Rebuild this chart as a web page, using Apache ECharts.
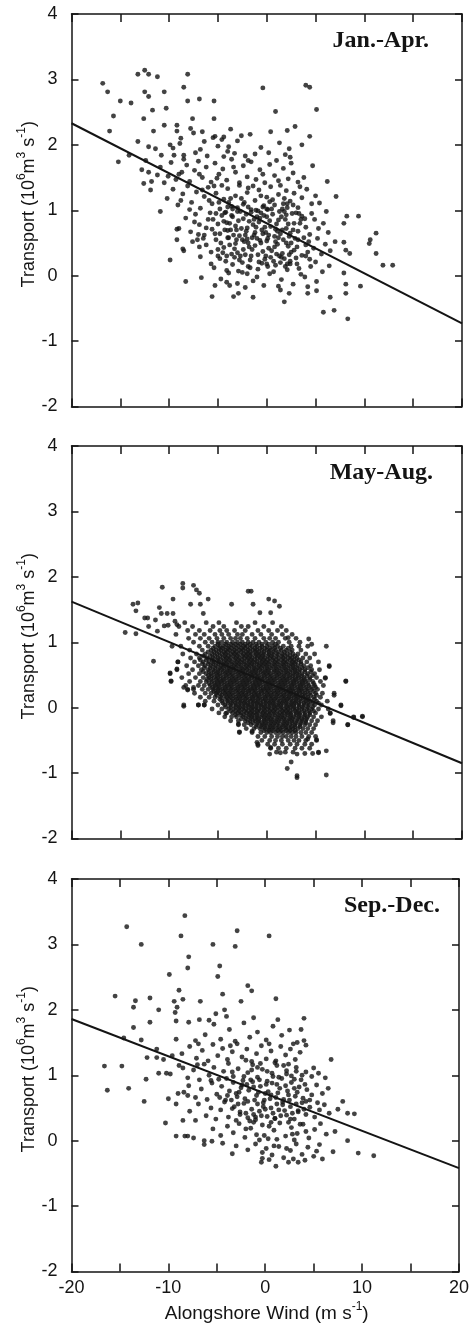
<!DOCTYPE html>
<html>
<head>
<meta charset="utf-8">
<script src="https://cdn.jsdelivr.net/npm/echarts@6/dist/echarts.min.js"></script>
<style>
html,body{margin:0;padding:0;background:#fff;}
#chart{width:472px;height:1325px;}
</style>
</head>
<body>
<div id="chart"></div>
<script>
// ---------------- DATA ----------------
const panelTitles = ['Jan.-Apr.', 'May-Aug.', 'Sep.-Dec.'];
const xTickLabels = [-20, -10, 0, 10, 20];
const yTickLabels = [-2, -1, 0, 1, 2, 3, 4];

// Regression lines (endpoints read at the frame edges)
const fitJanApr = [[-20, 2.33], [20, -0.73]];
const fitMayAug = [[-20, 1.62], [20, -0.85]];
const fitSepDec = [[-20, 1.86], [20, -0.42]];

// Jan.-Apr. scatter
const janAprOuter = [
[-16.8,2.94],[-16.3,2.81],[-15.0,2.67],[-13.9,2.64],[-15.7,2.44],[-16.1,2.21],[-15.2,1.74],[-14.1,1.84],
[-13.2,2.05],[-13.2,3.08],[-12.5,3.14],[-12.1,3.08],[-11.2,3.04],[-12.5,2.81],[-12.1,2.74],[-12.6,2.40],
[-11.7,2.53],[-11.6,2.21],[-12.1,1.97],[-11.4,1.94],[-10.5,2.81],[-10.3,2.56],[-10.5,2.30],[-10.8,1.84],
[-10.9,0.98],[-12.4,1.76],[-12.6,1.41],[-11.9,1.31],[-12.1,1.58],[-8.1,3.08],[-8.5,2.88],[-8.1,2.67],
[-6.9,2.70],[-7.6,2.40],[-9.2,2.21],[-9.2,2.30],[-8.8,2.10],[-9.9,2.00],[-9.5,1.84],[-8.5,1.84],
[-5.4,2.67],[-5.4,2.40],[-7.8,2.25],[-7.5,2.18],[-6.6,2.20],[-5.3,2.13],[-4.4,2.12],[-3.7,2.24],
[-2.6,2.14],[-1.7,2.16],[-0.4,2.87],[0.9,2.51],[0.4,2.20],[2.1,2.22],[2.9,2.28],[4.0,2.91],
[4.4,2.88],[5.1,2.54],[4.4,2.13],[3.6,2.00],[2.3,1.94],[2.4,1.81],[4.7,1.68],[6.2,1.44],
[7.1,1.21],[5.4,1.11],[6.1,0.98],[8.2,0.91],[9.4,0.91],[7.9,0.80],[11.2,0.65],[10.6,0.55],
[10.5,0.49],[11.2,0.34],[11.9,0.16],[12.9,0.16],[7.9,0.51],[8.1,0.39],[8.5,0.34],[7.9,0.04],
[9.6,-0.16],[8.1,-0.13],[8.1,-0.27],[8.3,-0.66],[6.9,-0.53],[5.8,-0.56],[6.5,-0.33],[4.2,-0.27],
[5.1,-0.23],[1.8,-0.40],[2.3,-0.27],[1.4,-0.22],[-1.4,-0.33],[-3.4,-0.32],[-2.9,-0.27],[-5.6,-0.32],
[-5.3,-0.15],[-4.1,-0.10],[-6.7,-0.03],[-8.3,-0.09],[-9.9,0.24],[-8.5,0.38],[-9.2,0.55],[-9.2,0.71],
[-7.4,0.82],[-7.1,0.55],[-6.5,0.57],[-6.9,0.44]
];
const janAprCore = [
[-9.6,1.95],[-8.9,2.02],[-7.3,1.88],[-6.4,2.05],[-6.1,1.83],[-5.0,1.98],[-4.6,2.08],[-4.0,1.90],[-3.3,1.87],[-3.0,2.06],
[-2.2,1.83],[-1.2,1.86],[-0.6,1.96],[0.2,1.88],[1.3,2.03],[1.9,1.85],[-3.9,1.97],[-4.4,1.82],[-6.8,1.93],[-5.5,2.11],
[-12.8,1.62],[-11.8,1.44],[-10.9,1.66],[-10.1,1.52],[-9.8,1.73],[-9.3,1.47],[-8.7,1.58],[-8.2,1.69],[-7.9,1.44],[-7.4,1.61],
[-7.0,1.75],[-6.6,1.50],[-6.2,1.66],[-5.7,1.43],[-5.3,1.72],[-4.9,1.55],[-4.5,1.63],[-4.1,1.46],[-3.6,1.78],[-3.2,1.58],
[-2.8,1.42],[-2.4,1.68],[-2.0,1.51],[-1.6,1.74],[-1.1,1.47],[-0.7,1.62],[-0.2,1.42],[0.3,1.70],[0.8,1.53],[1.2,1.45],
[1.7,1.64],[2.2,1.48],[2.7,1.57],[3.2,1.43],[3.8,1.50],[-8.5,1.78],[-6.9,1.55],[-5.1,1.49],[-3.4,1.66],[-1.9,1.76],
[-0.4,1.55],[1.0,1.76],[2.5,1.72],[-9.0,1.55],[-11.2,1.54],[-10.5,1.42],
[-10.2,1.18],[-9.6,1.32],[-9.1,1.08],[-8.6,1.25],[-8.1,1.37],[-7.7,1.12],[-7.2,1.28],[-6.8,1.03],[-6.4,1.21],[-6.0,1.35],
[-5.6,1.10],[-5.2,1.26],[-4.8,1.02],[-4.4,1.17],[-4.0,1.33],[-3.6,1.06],[-3.2,1.22],[-2.8,1.38],[-2.4,1.09],[-2.0,1.27],
[-1.6,1.01],[-1.2,1.15],[-0.8,1.31],[-0.4,1.05],[0.0,1.20],[0.4,1.36],[0.8,1.08],[1.2,1.24],[1.6,1.02],[2.0,1.30],
[2.4,1.14],[2.8,1.26],[3.2,1.04],[3.6,1.19],[4.1,1.32],[4.6,1.10],[5.0,1.22],[-7.9,1.01],[-5.9,1.15],[-3.9,1.12],
[-1.9,1.34],[0.1,1.01],[2.1,1.10],[-6.6,1.31],[-4.6,1.38],[-2.6,1.18],[-0.6,1.22],[1.4,1.38],[3.4,1.36],[-8.8,1.15],
[-3.0,1.04],[0.6,1.16],[1.8,1.18],[-1.4,1.37],[-5.4,1.37],
[-9.0,0.72],[-8.3,0.88],[-7.8,0.67],[-7.3,0.94],[-6.9,0.78],[-6.4,0.62],[-6.0,0.86],[-5.6,0.71],[-5.2,0.95],[-4.8,0.64],
[-4.4,0.83],[-4.0,0.69],[-3.6,0.92],[-3.2,0.76],[-2.8,0.61],[-2.4,0.87],[-2.0,0.73],[-1.6,0.97],[-1.2,0.66],[-0.8,0.82],
[-0.4,0.64],[0.0,0.90],[0.4,0.75],[0.8,0.60],[1.2,0.85],[1.6,0.70],[2.0,0.93],[2.4,0.65],[2.8,0.80],[3.2,0.68],
[3.6,0.91],[4.0,0.74],[4.4,0.63],[4.9,0.86],[5.3,0.72],[5.8,0.80],[6.3,0.66],[-5.8,0.96],[-4.2,0.97],[-3.0,0.98],
[-1.8,0.83],[-0.6,0.96],[0.6,0.94],[1.8,0.98],[3.0,0.96],[-3.8,0.80],[-2.6,0.72],[-1.4,0.78],[-0.2,0.74],[1.0,0.79],
[2.2,0.79],[3.4,0.80],[-5.0,0.79],[-6.2,0.73],[-2.2,0.62],[-1.0,0.90],[0.2,0.62],[1.4,0.64],[2.6,0.95],[-3.4,0.62],
[-4.6,0.92],[4.6,0.95],[-7.0,0.63],
[-8.6,0.41],[-7.6,0.52],[-6.8,0.29],[-6.2,0.47],[-5.7,0.36],[-5.2,0.55],[-4.8,0.26],[-4.4,0.43],[-4.0,0.58],[-3.6,0.33],
[-3.2,0.49],[-2.8,0.24],[-2.4,0.40],[-2.0,0.56],[-1.6,0.30],[-1.2,0.46],[-0.8,0.21],[-0.4,0.37],[0.0,0.53],[0.4,0.28],
[0.8,0.44],[1.2,0.58],[1.6,0.34],[2.0,0.50],[2.4,0.22],[2.8,0.39],[3.2,0.55],[3.6,0.31],[4.0,0.47],[4.4,0.25],
[4.8,0.42],[5.2,0.57],[5.6,0.33],[6.0,0.48],[6.5,0.38],[7.0,0.52],[-3.0,0.35],[-1.0,0.57],[1.0,0.33],[3.0,0.27],
[-5.0,0.40],[-2.2,0.32],[-0.2,0.25],[1.8,0.26],[3.8,0.58],[-3.8,0.47],[-1.8,0.44],[0.2,0.42],[2.2,0.45],[4.2,0.36],
[-4.2,0.22],[-0.6,0.50],[1.4,0.20],[5.0,0.21],
[-5.4,0.12],[-4.7,-0.05],[-4.1,0.08],[-3.5,0.17],[-3.0,-0.12],[-2.5,0.05],[-1.9,0.14],[-1.4,-0.08],[-0.9,0.10],[-0.3,-0.15],
[0.3,0.03],[0.9,0.16],[1.5,-0.06],[2.1,0.09],[2.7,-0.13],[3.3,0.11],[3.9,-0.02],[4.5,0.14],[5.1,-0.09],[5.7,0.06],
[6.4,0.15],[-2.2,-0.18],[0.0,0.18],[2.4,0.18],[4.2,-0.17],[-3.8,-0.15],[1.2,-0.16],[-1.0,-0.02]
];
const janAprDense = [
[-4.3,0.96],[-3.9,0.58],[-3.5,1.02],[-3.1,0.55],[-2.7,0.98],[-2.3,0.52],[-1.9,1.05],[-1.5,0.58],[-1.1,1.00],[-0.7,0.54],
[-0.3,1.07],[0.1,0.57],[0.5,1.02],[0.9,0.52],[1.3,0.98],[1.7,0.55],[2.1,1.04],[2.5,0.50],[-4.1,0.30],[-3.3,0.28],
[-2.5,0.20],[-1.7,0.24],[-0.9,0.32],[-0.1,0.30],[0.7,0.22],[1.5,0.28],[2.3,0.32],[3.1,0.18],[-3.7,0.70],[-2.9,0.84],
[-2.1,0.68],[-1.3,0.86],[-0.5,0.70],[0.3,0.84],[1.1,0.68],[1.9,0.86],[2.7,0.70],[3.5,0.86],
[-5.7,0.18],[-5.3,0.64],[-4.9,1.12],[-4.5,0.35],[-4.1,0.81],[-3.7,1.18],[-3.3,0.41],[-2.9,0.07],[-2.5,0.55],[-2.1,0.94],
[-1.7,0.12],[-1.3,0.62],[-0.9,0.99],[-0.5,0.19],[-0.1,0.66],[0.3,1.13],[0.7,0.06],[1.1,0.48],[1.5,0.90],[1.9,0.14],
[2.3,0.60],[2.7,1.08],[3.1,0.44],[3.5,0.02],[3.9,0.87],[4.3,0.52],[-5.5,0.86],[-4.7,0.50],[-3.9,0.04],[-3.1,0.70],
[-2.3,1.12],[-1.5,0.40],[-0.7,0.88],[0.1,0.14],[0.9,0.71],[1.7,1.10],[2.5,0.36],[3.3,0.95],[-4.3,0.70],[-2.7,0.30],
[-1.1,0.74],[0.5,0.38],[2.1,0.18],[-3.5,0.90],[-1.9,0.50],[-0.3,0.92],[1.3,0.30],[2.9,0.57],[-5.0,0.30],[-4.0,1.05],
[-2.0,0.03],[0.0,1.02],[2.0,0.72],[4.0,0.30]
];

// May-Aug. scatter
const mayAugOuter = [
[-14.5,1.15],[-13.4,1.13],[-13.7,1.58],[-13.2,1.60],[-13.4,1.48],[-12.5,1.37],[-12.2,1.37],[-12.1,1.24],[-11.6,0.71],
[-11.4,1.34],[-11.2,1.17],[-11.0,1.53],[-10.7,1.84],[-10.8,1.44],[-10.5,1.25],[-10.1,1.26],[-10.2,1.44],[-9.6,1.44],
[-9.6,1.66],[-9.4,1.32],[-9.2,1.27],[-9.7,0.94],[-8.6,1.90],[-8.6,1.83],[-7.5,1.87],[-7.2,1.80],[-6.9,1.75],[-6.8,1.58],
[-6.0,1.66],[-6.5,1.44],[-7.8,1.58],[-8.5,0.02],[-7.0,0.04],[-6.4,0.04],[-9.9,0.53],[-9.8,0.41],[-9.2,0.59],[-9.1,0.70],
[-8.5,0.31],[-8.1,0.27],[-7.5,0.31],[-3.6,1.58],[-1.9,1.78],[-1.6,1.78],[-1.4,1.58],[-0.7,1.45],[0.2,1.66],[0.8,1.63],
[1.3,1.55],[0.4,1.45],[2.2,1.07],[4.3,1.05],[4.6,0.97],[6.1,0.94],[6.4,0.63],[6.0,0.45],[8.1,0.41],[6.9,0.19],
[7.6,0.03],[9.8,-0.13],[8.9,-0.15],[8.3,-0.26],[6.8,-0.23],[6.5,-0.09],[6.1,-0.66],[6.1,-1.03],[3.1,-1.04],[3.1,-1.07],
[2.1,-0.93],[2.5,-0.83],[3.1,-0.71],[3.9,-0.70],[4.7,-0.70],[5.3,-0.69],[4.2,-0.48],[5.1,-0.49],[1.4,-0.69],[0.3,-0.71],
[0.4,-0.61],[-0.9,-0.58],[-1.0,-0.53],[-1.5,-0.36],[-2.8,-0.37],[-4.2,-0.09],[-2.9,-0.25]
];
const mayAugRows = [
[1.30,[-8.4,-6.2,-4.9,-3.1,-1.2,0.6]],
[1.24,[-9.0,-7.6,-5.5,-4.4,-2.6,-1.9,-0.3,1.5]],
[1.18,[-8.1,-6.9,-5.8,-4.8,-4.1,-3.3,-2.2,-0.9,0.2,1.1,2.0]],
[1.12,[-9.3,-7.3,-6.4,-5.3,-4.6,-3.9,-3.0,-2.5,-1.5,-0.6,0.5,1.6,2.6]],
[1.06,[-8.0,-6.8,-5.9,-5.1,-4.4,-3.7,-3.2,-2.7,-2.0,-1.2,-0.3,0.3,0.9,1.9,3.0]],
[1.00,[-7.5,-6.3,-5.6,-5.0,-4.6,-4.1,-3.5,-3.0,-2.5,-1.9,-1.4,-0.8,-0.1,0.6,1.2,2.3,3.4]],
[0.94,[-8.8,-6.9,-6.0,-5.3,-4.8,-4.4,-3.9,-3.4,-2.9,-2.4,-2.0,-1.5,-1.0,-0.5,0.0,0.6,1.1,1.7,2.5,3.3,4.2]],
[0.88,[-7.9,-6.6,-5.7,-5.2,-4.7,-4.2,-3.8,-3.3,-2.8,-2.4,-1.9,-1.4,-1.0,-0.5,0.0,0.4,0.9,1.5,2.0,2.6,3.5]],
[0.82,[-8.6,-7.2,-6.3,-5.6,-5.1,-4.6,-4.2,-3.7,-3.3,-2.9,-2.4,-2.0,-1.6,-1.1,-0.7,-0.3,0.2,0.6,1.1,1.6,2.1,2.7,3.2,4.0,4.9]],
[0.76,[-7.8,-6.9,-6.1,-5.5,-5.0,-4.5,-4.1,-3.7,-3.2,-2.8,-2.3,-1.9,-1.5,-1.0,-0.6,-0.2,0.3,0.7,1.2,1.7,2.2,2.6,3.1,3.7,4.4]],
[0.70,[-9.1,-7.4,-6.5,-5.9,-5.4,-4.9,-4.4,-4.0,-3.6,-3.1,-2.7,-2.3,-1.8,-1.4,-1.0,-0.5,-0.1,0.3,0.8,1.2,1.7,2.1,2.6,3.0,3.5,4.1,5.3]],
[0.64,[-8.2,-7.0,-6.3,-5.7,-5.2,-4.7,-4.3,-3.9,-3.4,-3.0,-2.6,-2.1,-1.7,-1.3,-0.8,-0.4,0.0,0.5,0.9,1.4,1.8,2.3,2.7,3.2,3.8,4.5,6.4]],
[0.58,[-9.2,-7.6,-6.7,-6.0,-5.5,-5.0,-4.6,-4.1,-3.7,-3.3,-2.8,-2.4,-2.0,-1.5,-1.1,-0.7,-0.2,0.2,0.7,1.1,1.6,2.0,2.5,2.9,3.4,3.9,4.6,5.4]],
[0.52,[-9.9,-8.0,-6.9,-6.2,-5.7,-5.2,-4.8,-4.3,-3.9,-3.5,-3.0,-2.6,-2.2,-1.7,-1.3,-0.9,-0.4,0.0,0.4,0.9,1.3,1.8,2.2,2.7,3.1,3.6,4.2,4.9]],
[0.46,[-8.7,-7.3,-6.5,-5.9,-5.4,-5.0,-4.5,-4.1,-3.6,-3.2,-2.8,-2.3,-1.9,-1.5,-1.0,-0.6,-0.2,0.3,0.7,1.1,1.6,2.0,2.4,2.9,3.3,3.8,4.4,5.1,6.0]],
[0.40,[-9.8,-7.9,-6.8,-6.2,-5.6,-5.1,-4.7,-4.3,-3.8,-3.4,-3.0,-2.5,-2.1,-1.7,-1.2,-0.8,-0.4,0.1,0.5,0.9,1.4,1.8,2.2,2.7,3.1,3.6,4.0,4.7,5.5,8.1]],
[0.34,[-8.3,-7.0,-6.4,-5.8,-5.3,-4.9,-4.4,-4.0,-3.6,-3.1,-2.7,-2.3,-1.9,-1.4,-1.0,-0.6,-0.1,0.3,0.7,1.2,1.6,2.0,2.5,2.9,3.4,3.8,4.3,4.9,5.8]],
[0.28,[-8.1,-7.5,-6.6,-6.0,-5.5,-5.0,-4.6,-4.2,-3.7,-3.3,-2.9,-2.4,-2.0,-1.6,-1.2,-0.7,-0.3,0.1,0.5,1.0,1.4,1.8,2.3,2.7,3.2,3.6,4.1,4.6,5.2]],
[0.22,[-7.4,-6.3,-5.7,-5.2,-4.8,-4.3,-3.9,-3.5,-3.0,-2.6,-2.2,-1.8,-1.3,-0.9,-0.5,0.0,0.4,0.8,1.2,1.7,2.1,2.5,3.0,3.4,3.9,4.4,5.0,5.7,6.9]],
[0.16,[-6.8,-5.9,-5.3,-4.7,-4.1,-3.7,-3.2,-2.8,-2.4,-2.0,-1.5,-1.1,-0.7,-0.2,0.2,0.6,1.0,1.5,1.9,2.3,2.8,3.2,3.7,4.2,4.8,5.5]],
[0.10,[-6.3,-5.4,-4.6,-4.0,-3.5,-3.0,-2.6,-2.2,-1.7,-1.3,-0.9,-0.4,0.0,0.4,0.8,1.3,1.7,2.1,2.6,3.0,3.5,4.0,4.5,5.1,6.2]],
[0.04,[-8.5,-7.0,-6.4,-5.0,-4.3,-3.7,-3.2,-2.8,-2.3,-1.9,-1.5,-1.0,-0.6,-0.2,0.3,0.7,1.1,1.5,2.0,2.4,2.8,3.3,3.8,4.3,4.9,5.6,7.6]],
[-0.02,[-5.6,-4.6,-3.9,-3.4,-2.9,-2.5,-2.1,-1.6,-1.2,-0.8,-0.3,0.1,0.5,0.9,1.4,1.8,2.2,2.7,3.1,3.6,4.1,4.6,5.3,6.3]],
[-0.08,[-4.9,-4.1,-3.5,-3.0,-2.6,-2.1,-1.7,-1.3,-0.9,-0.4,0.0,0.4,0.8,1.3,1.7,2.1,2.5,3.0,3.4,3.9,4.4,5.0,6.5]],
[-0.14,[-4.3,-3.6,-3.1,-2.4,-1.9,-1.5,-1.0,-0.6,-0.2,0.2,0.6,1.1,1.5,1.9,2.4,2.8,3.3,3.8,4.2,4.8,5.6,8.9,9.8]],
[-0.20,[-3.7,-2.9,-2.2,-1.7,-1.2,-0.8,-0.3,0.1,0.5,0.9,1.3,1.8,2.2,2.6,3.1,3.6,4.0,4.6,5.2,6.8]],
[-0.26,[-2.9,-2.3,-1.6,-1.0,-0.5,-0.1,0.3,0.7,1.1,1.6,2.0,2.4,2.9,3.4,3.9,4.4,5.0,8.3]],
[-0.32,[-2.1,-1.3,-0.7,-0.2,0.2,0.6,1.0,1.4,1.9,2.3,2.7,3.2,3.7,4.2,4.8]],
[-0.38,[-2.8,-1.5,-0.6,0.0,0.4,0.9,1.3,1.7,2.2,2.6,3.0,3.5,4.0,4.6]],
[-0.44,[-0.9,-0.2,0.5,1.1,1.6,2.0,2.5,3.0,3.6,4.3,5.0]],
[-0.50,[-0.5,0.3,0.9,1.5,2.2,2.8,3.3,4.0,5.1]],
[-0.56,[-0.9,0.1,0.8,1.6,2.4,3.1,3.9,4.6]],
[-0.62,[0.4,1.2,2.0,2.9,3.6,4.4]],
[-0.68,[1.0,1.9,2.7,5.3]]
];
// extra May-Aug. points filling the near-solid centre of the cloud
const mayAugFill = [
[0.97,[-5.0,-4.2,-3.7,-3.2,-2.7,-2.2,-1.7,-1.1,-0.5,0.2,0.9]],
[0.91,[-5.5,-4.9,-4.5,-4.0,-3.6,-3.1,-2.6,-2.2,-1.7,-1.2,-0.7,-0.2,0.3,0.8,1.4,2.2]],
[0.85,[-6.0,-5.4,-4.9,-4.4,-4.0,-3.5,-3.1,-2.6,-2.1,-1.7,-1.2,-0.8,-0.3,0.2,0.7,1.2,1.8,2.4]],
[0.79,[-6.5,-5.8,-5.3,-4.8,-4.3,-3.9,-3.4,-3.0,-2.5,-2.1,-1.7,-1.2,-0.8,-0.4,0.1,0.5,1.0,1.5,1.9,2.4,2.9]],
[0.73,[-6.8,-6.2,-5.6,-5.1,-4.7,-4.2,-3.8,-3.3,-2.9,-2.5,-2.0,-1.6,-1.2,-0.7,-0.3,0.1,0.6,1.0,1.5,1.9,2.4,2.8,3.3]],
[0.67,[-6.6,-6.0,-5.5,-5.0,-4.5,-4.1,-3.6,-3.2,-2.8,-2.3,-1.9,-1.5,-1.0,-0.6,-0.2,0.2,0.7,1.1,1.6,2.0,2.5,2.9,3.5]],
[0.61,[-6.4,-5.8,-5.3,-4.8,-4.4,-3.9,-3.5,-3.1,-2.6,-2.2,-1.8,-1.3,-0.9,-0.5,0.0,0.4,0.9,1.3,1.8,2.2,2.7,3.1,3.6,4.2]],
[0.55,[-6.5,-5.9,-5.4,-5.0,-4.5,-4.1,-3.7,-3.2,-2.8,-2.4,-1.9,-1.5,-1.1,-0.6,-0.2,0.2,0.7,1.1,1.5,2.0,2.4,2.9,3.3,3.9,4.5]],
[0.49,[-6.0,-5.6,-5.1,-4.7,-4.2,-3.8,-3.4,-2.9,-2.5,-2.1,-1.6,-1.2,-0.8,-0.3,0.1,0.5,1.0,1.4,1.8,2.3,2.7,3.2,3.6,4.1,4.7]],
[0.43,[-6.1,-5.7,-5.2,-4.8,-4.4,-3.9,-3.5,-3.1,-2.6,-2.2,-1.8,-1.3,-0.9,-0.5,0.0,0.4,0.8,1.3,1.7,2.1,2.6,3.0,3.5,3.9,4.4]],
[0.37,[-5.9,-5.4,-5.0,-4.6,-4.1,-3.7,-3.3,-2.8,-2.4,-2.0,-1.5,-1.1,-0.7,-0.2,0.2,0.6,1.1,1.5,1.9,2.4,2.8,3.3,3.7,4.2,4.8]],
[0.31,[-5.6,-5.2,-4.8,-4.3,-3.9,-3.5,-3.0,-2.6,-2.2,-1.7,-1.3,-0.9,-0.4,0.0,0.4,0.9,1.3,1.7,2.2,2.6,3.1,3.5,4.0,4.5,5.0]],
[0.25,[-5.4,-5.0,-4.5,-4.1,-3.7,-3.2,-2.8,-2.4,-1.9,-1.5,-1.1,-0.6,-0.2,0.2,0.7,1.1,1.5,2.0,2.4,2.8,3.3,3.7,4.2,4.8]],
[0.19,[-5.1,-4.6,-4.2,-3.8,-3.4,-2.9,-2.5,-2.1,-1.6,-1.2,-0.8,-0.3,0.1,0.5,1.0,1.4,1.8,2.3,2.7,3.1,3.6,4.0,4.5,5.1]],
[0.13,[-4.8,-4.3,-3.9,-3.5,-3.1,-2.7,-2.2,-1.8,-1.4,-0.9,-0.5,-0.1,0.4,0.8,1.2,1.7,2.1,2.5,3.0,3.4,3.9,4.3,4.9]],
[0.07,[-4.5,-4.0,-3.6,-3.2,-2.7,-2.3,-1.9,-1.4,-1.0,-0.6,-0.1,0.3,0.7,1.2,1.6,2.0,2.5,2.9,3.3,3.8,4.2,4.7,5.3]],
[0.01,[-4.2,-3.7,-3.2,-2.8,-2.4,-1.9,-1.5,-1.1,-0.6,-0.2,0.2,0.7,1.1,1.5,2.0,2.4,2.8,3.3,3.7,4.2,4.7]],
[-0.05,[-3.7,-3.2,-2.8,-2.3,-1.9,-1.5,-1.0,-0.6,-0.2,0.3,0.7,1.1,1.6,2.0,2.4,2.9,3.3,3.8,4.3,4.8]],
[-0.11,[-3.2,-2.7,-2.3,-1.8,-1.4,-1.0,-0.5,-0.1,0.3,0.8,1.2,1.6,2.1,2.5,3.0,3.4,3.9,4.4]],
[-0.17,[-2.6,-2.1,-1.6,-1.2,-0.8,-0.3,0.1,0.5,1.0,1.4,1.8,2.3,2.7,3.2,3.6,4.1]],
[-0.23,[-1.9,-1.4,-0.9,-0.5,-0.1,0.4,0.8,1.2,1.7,2.1,2.6,3.0,3.5,4.0]],
[-0.29,[-1.1,-0.6,-0.2,0.3,0.7,1.2,1.6,2.0,2.5,2.9,3.4]],
[-0.35,[-0.3,0.2,0.6,1.1,1.5,2.0,2.4,2.9]]
];

// Sep.-Dec. scatter
const sepDecOuter = [
[-14.3,3.27],[-8.3,3.44],[-8.7,3.13],[-2.9,3.21],[0.4,3.13],[-12.8,3.00],[-5.4,3.00],[-3.1,2.97],[-7.9,2.81],[-8.0,2.64],
[-4.7,2.67],[-4.9,2.51],[-9.9,2.54],[-8.9,2.30],[-1.8,2.37],[-1.4,2.29],[-4.4,2.24],[-15.5,2.21],[-13.4,2.14],[-13.6,2.04],
[-11.9,2.18],[-9.4,2.13],[-8.5,2.16],[-9.1,2.04],[-9.3,1.96],[-11.0,2.00],[-6.7,2.13],[-2.5,2.13],[1.1,2.17],[-4.2,2.00],
[-5.1,1.94],[-6.8,1.85],[-7.9,1.81],[-9.2,1.83],[-11.9,1.81],[-13.6,1.73],[-14.6,1.57],[-12.8,1.54],[-16.6,1.14],[-14.8,1.14],
[-16.3,0.77],[-14.1,0.80],[-12.5,0.60],[-12.3,0.94],[-12.2,1.27],[-11.2,1.40],[-11.2,1.27],[-10.5,1.24],[-11.0,1.03],[-10.2,1.03],
[-9.6,1.30],[-9.2,1.55],[-8.5,1.11],[-10.3,0.27],[-9.2,0.07],[-8.5,0.31],[-8.3,0.07],[-8.0,0.07],[-7.4,0.04],[-7.2,0.31],
[-9.2,0.56],[-10.0,0.64],[-8.4,0.74],[-8.0,0.69],[-6.3,-0.06],[-6.3,0.00],[-5.5,-0.01],[-4.4,-0.04],[-3.4,-0.20],[-0.4,-0.33],
[1.1,-0.39],[-0.3,-0.18],[2.4,-0.33],[3.4,-0.33],[5.9,-0.28],[5.3,-0.16],[7.0,-0.17],[8.5,0.00],[9.6,-0.19],[11.2,-0.23],
[7.2,0.14],[8.0,0.60],[9.2,0.41],[8.5,0.42],[6.8,1.24],[5.0,1.11],[4.0,1.87],[3.7,1.70],[4.0,1.53]
];
const sepDecCore = [
[-6.2,1.62],[-5.3,1.78],[-4.6,1.55],[-3.7,1.70],[-3.1,1.52],[-2.2,1.80],[-1.6,1.58],[-0.8,1.66],[0.1,1.54],[0.8,1.75],
[1.7,1.61],[2.5,1.69],[3.3,1.50],[-7.2,1.53],[-5.8,1.84],[-1.2,1.88],[1.3,1.85],[-4.0,1.90],
[-8.6,1.33],[-7.8,1.44],[-7.1,1.26],[-6.5,1.38],[-5.9,1.22],[-5.4,1.47],[-4.9,1.30],[-4.4,1.41],[-3.9,1.24],[-3.4,1.36],
[-2.9,1.48],[-2.4,1.28],[-1.9,1.40],[-1.4,1.21],[-0.9,1.33],[-0.4,1.45],[0.1,1.25],[0.6,1.37],[1.1,1.22],[1.6,1.44],
[2.1,1.31],[2.6,1.40],[3.1,1.24],[3.6,1.35],[4.2,1.46],[-6.9,1.48],[-2.0,1.23],[0.4,1.48],[2.9,1.48],[-3.6,1.45],
[-9.8,1.02],[-8.9,1.15],[-8.0,0.96],[-7.4,1.08],[-6.8,0.93],[-6.3,1.17],[-5.8,1.00],[-5.3,1.12],[-4.8,0.94],[-4.3,1.06],
[-3.8,1.18],[-3.3,0.98],[-2.8,1.10],[-2.3,0.92],[-1.8,1.04],[-1.3,1.16],[-0.8,0.97],[-0.3,1.09],[0.2,0.91],[0.7,1.03],
[1.2,1.15],[1.7,0.95],[2.2,1.07],[2.7,0.99],[3.2,1.12],[3.7,0.93],[4.2,1.05],[4.8,0.98],[5.5,1.03],[6.2,0.96],
[-4.0,0.95],[-1.5,0.93],[1.0,1.19],[3.0,0.94],[-5.6,0.92],[-0.5,1.18],[2.4,1.17],[-7.0,1.16],
[-9.0,0.72],[-7.9,0.84],[-7.2,0.66],[-6.6,0.79],[-6.0,0.63],[-5.5,0.88],[-5.0,0.71],[-4.5,0.83],[-4.1,0.62],[-3.7,0.76],
[-3.3,0.89],[-2.9,0.67],[-2.5,0.81],[-2.1,0.64],[-1.7,0.77],[-1.3,0.90],[-0.9,0.69],[-0.5,0.83],[-0.1,0.62],[0.3,0.75],
[0.7,0.88],[1.1,0.66],[1.5,0.80],[1.9,0.63],[2.3,0.76],[2.7,0.89],[3.1,0.68],[3.5,0.82],[3.9,0.65],[4.3,0.78],
[4.8,0.70],[5.3,0.85],[5.9,0.72],[6.5,0.80],[-3.9,0.69],[-1.9,0.86],[0.1,0.86],[2.1,0.84],[4.1,0.86],[-0.7,0.74],
[1.3,0.73],[3.3,0.74],[-2.7,0.74],[-4.7,0.66],[0.5,0.64],[2.5,0.62],[-1.1,0.62],[-3.5,0.62],[4.6,0.62],
[-7.8,0.45],[-6.9,0.56],[-6.1,0.38],[-5.6,0.50],[-5.1,0.33],[-4.6,0.47],[-4.2,0.59],[-3.8,0.36],[-3.4,0.49],[-3.0,0.31],
[-2.6,0.44],[-2.2,0.57],[-1.8,0.35],[-1.4,0.48],[-1.0,0.32],[-0.6,0.45],[-0.2,0.58],[0.2,0.37],[0.6,0.50],[1.0,0.34],
[1.4,0.47],[1.8,0.59],[2.2,0.39],[2.6,0.52],[3.0,0.33],[3.4,0.46],[3.8,0.58],[4.2,0.40],[4.6,0.51],[5.1,0.36],
[5.6,0.47],[6.1,0.55],[6.6,0.42],[7.5,0.48],[-2.0,0.42],[0.0,0.48],[2.0,0.46],[4.0,0.48],[-0.8,0.56],[1.2,0.56],
[3.2,0.56],[-2.8,0.56],[-1.2,0.40],[0.8,0.42],[2.8,0.42],[5.4,0.58],
[-5.4,0.18],[-4.6,0.08],[-3.9,0.22],[-3.3,0.12],[-2.7,0.26],[-2.1,0.05],[-1.5,0.19],[-0.9,0.09],[-0.3,0.24],[0.3,0.03],
[0.9,0.16],[1.5,0.27],[2.1,0.07],[2.7,0.20],[3.3,0.11],[3.9,0.25],[4.5,0.04],[5.1,0.17],[5.7,0.26],[6.3,0.10],
[-1.2,0.28],[0.6,0.28],[2.4,0.28],[-0.6,0.01],[1.2,0.02],[3.0,0.01],[4.2,0.14],
[-3.0,-0.08],[-1.8,-0.14],[-1.0,-0.05],[0.1,-0.12],[0.7,-0.22],[1.4,-0.09],[1.9,-0.26],[2.6,-0.15],[3.2,-0.05],[3.8,-0.21],
[4.4,-0.10],[5.0,-0.24],[5.6,-0.06],[0.4,-0.29],[2.9,-0.28],[-0.3,-0.27],[4.1,-0.30]
];
const sepDecDense = [
[-3.4,1.05],[-3.0,0.72],[-2.6,0.40],[-2.2,0.98],[-1.8,0.60],[-1.4,1.08],[-1.0,0.36],[-0.6,0.93],[-0.2,0.52],[0.2,1.06],
[0.6,0.70],[1.0,0.34],[1.4,0.97],[1.8,0.55],[2.2,1.02],[2.6,0.33],[3.0,0.80],[3.4,0.44],[3.8,1.00],[4.2,0.60],
[-3.2,0.52],[-2.4,0.85],[-1.6,0.30],[-0.8,1.12],[0.0,0.72],[0.8,0.98],[1.6,0.38],[2.4,0.70],[3.2,1.06],[-2.0,0.18],
[0.4,0.22],[1.2,0.86],[2.8,0.10],[-1.2,0.82],[-0.4,0.38],[1.9,1.15],[3.6,0.25],[0.9,-0.08],[2.2,-0.12],[-0.1,0.08]
];

// ---------------- CHART ----------------
const rowsToPoints = rows => rows.flatMap(([y, xs]) => xs.map(x => [x, y]));
const janApr = janAprOuter.concat(janAprCore, janAprDense);
const mayAug = mayAugOuter.concat(rowsToPoints(mayAugRows), rowsToPoints(mayAugFill));
const sepDec = sepDecOuter.concat(sepDecCore, sepDecDense);

const panelData = [janApr, mayAug, sepDec];
const panelFits = [fitJanApr, fitMayAug, fitSepDec];

const gridLeft = 71.5, gridWidth = 390.5, gridHeight = 392.5;
const gridTops = [14, 446, 879];
const titleRight = [429, 433, 440];

const ink = '#141414';
const sans = '"Liberation Sans", Arial, sans-serif';
const tickFont = 18;

const grids = [], xAxes = [], yAxes = [], series = [], graphics = [];
gridTops.forEach((top, p) => {
  grids.push({ left: gridLeft, top: top, width: gridWidth, height: gridHeight, containLabel: false });
  const axisLine = { show: true, onZero: false, lineStyle: { color: ink, width: 1.5 } };
  const xBase = {
    type: 'value', gridIndex: p, min: xTickLabels[0], max: xTickLabels[xTickLabels.length - 1], interval: 5,
    axisLine: axisLine, splitLine: { show: false },
    axisTick: { show: true, inside: true, length: 8, lineStyle: { color: ink, width: 1.5 } }
  };
  xAxes.push(Object.assign({}, xBase, {
    position: 'bottom',
    axisLabel: {
      show: p === 2, color: ink, fontSize: tickFont, fontFamily: sans, margin: 8,
      formatter: v => (xTickLabels.indexOf(v) >= 0 ? String(v) : '')
    }
  }));
  xAxes.push(Object.assign({}, xBase, { position: 'top', axisLabel: { show: false } }));
  const yBase = {
    type: 'value', gridIndex: p, min: yTickLabels[0], max: yTickLabels[yTickLabels.length - 1], interval: 1,
    axisLine: axisLine, splitLine: { show: false },
    axisTick: { show: true, inside: true, length: 7, lineStyle: { color: ink, width: 1.5 } }
  };
  yAxes.push(Object.assign({}, yBase, {
    position: 'left',
    axisLabel: { show: true, color: ink, fontSize: tickFont, fontFamily: sans, margin: 14 }
  }));
  yAxes.push(Object.assign({}, yBase, { position: 'right', axisLabel: { show: false } }));

  series.push({
    type: 'scatter', xAxisIndex: 2 * p, yAxisIndex: 2 * p, data: panelData[p],
    symbol: 'circle', symbolSize: 4.9, itemStyle: { color: ink }, silent: true, z: 2, large: false
  });
  series.push({
    type: 'line', xAxisIndex: 2 * p, yAxisIndex: 2 * p, data: panelFits[p],
    symbol: 'none', lineStyle: { color: ink, width: 2 }, silent: true, z: 3
  });

  graphics.push({
    type: 'text', x: titleRight[p], y: top + 27,
    style: {
      text: panelTitles[p], fill: ink,
      font: 'bold 24px "Liberation Serif", "Times New Roman", serif',
      textAlign: 'right', textVerticalAlign: 'middle'
    }, z: 10
  });
  graphics.push({
    type: 'text', x: 27, y: top + gridHeight / 2 - 6, rotation: Math.PI / 2,
    style: {
      text: '{b|Transport (10}{s|6}{b|m}{s|3}{b| s}{s|-1}{b|)}',
      fill: ink, textAlign: 'center', textVerticalAlign: 'middle',
      rich: {
        b: { fontSize: 18, fontFamily: sans, lineHeight: 22, verticalAlign: 'bottom', fill: ink },
        s: { fontSize: 12, fontFamily: sans, lineHeight: 12, verticalAlign: 'top', fill: ink }
      }
    }, z: 10
  });
});

graphics.push({
  type: 'text', x: gridLeft + gridWidth / 2, y: 1312,
  style: {
    text: '{b|Alongshore Wind (m s}{s|-1}{b|)}',
    fill: ink, textAlign: 'center', textVerticalAlign: 'middle',
    rich: {
      b: { fontSize: 19, fontFamily: sans, lineHeight: 23, verticalAlign: 'bottom', fill: ink },
      s: { fontSize: 12, fontFamily: sans, lineHeight: 12, verticalAlign: 'top', fill: ink }
    }
  }, z: 10
});

const chart = echarts.init(document.getElementById('chart'), null, { renderer: 'canvas' });
chart.setOption({
  animation: false,
  backgroundColor: '#ffffff',
  grid: grids, xAxis: xAxes, yAxis: yAxes, series: series, graphic: graphics
});
</script>
</body>
</html>
